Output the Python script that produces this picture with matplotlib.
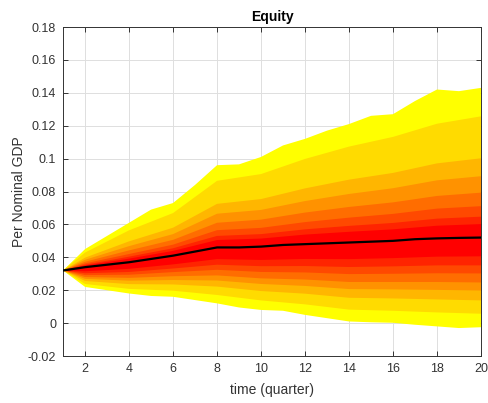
import matplotlib
matplotlib.use("Agg")
import matplotlib.pyplot as plt
from matplotlib.ticker import FuncFormatter

# quarters for the median and the outer band
t = list(range(1, 21))
mediana = [0.032, 0.034, 0.0355, 0.037, 0.039, 0.041, 0.0435, 0.046, 0.046, 0.0465,
           0.0475, 0.048, 0.0485, 0.049, 0.0495, 0.050, 0.051, 0.0515, 0.0518, 0.052]
sup_ext = [0.032, 0.045, 0.053, 0.061, 0.069, 0.073, 0.084, 0.096, 0.0965, 0.101,
           0.108, 0.112, 0.117, 0.121, 0.126, 0.127, 0.135, 0.142, 0.141, 0.143]
inf_ext = [0.032, 0.022, 0.020, 0.018, 0.0165, 0.016, 0.014, 0.012, 0.0095, 0.008,
           0.0075, 0.005, 0.003, 0.001, 0.0005, 0.0002, -0.001, -0.002, -0.003, -0.0025]

# inner bands (outer to inner), read at fewer quarters
t_in = [1, 2, 4, 6, 8, 10, 12, 14, 16, 18, 20]
sup_bandas = [
    [0.032, 0.0429, 0.0564, 0.0669, 0.0865, 0.0906, 0.0998, 0.1073, 0.1132, 0.1212, 0.1257],
    [0.032, 0.0398, 0.0497, 0.0580, 0.0725, 0.0754, 0.0819, 0.0872, 0.0913, 0.0971, 0.1002],
    [0.032, 0.0385, 0.0468, 0.0541, 0.0665, 0.0688, 0.0742, 0.0785, 0.0820, 0.0868, 0.0893],
    [0.032, 0.0373, 0.0442, 0.0506, 0.0610, 0.0629, 0.0672, 0.0706, 0.0734, 0.0773, 0.0793],
    [0.032, 0.0363, 0.0420, 0.0477, 0.0565, 0.0579, 0.0614, 0.0641, 0.0664, 0.0696, 0.0711],
    [0.032, 0.0355, 0.0404, 0.0455, 0.0530, 0.0541, 0.0570, 0.0591, 0.0609, 0.0635, 0.0647],
    [0.032, 0.0350, 0.0392, 0.0439, 0.0505, 0.0514, 0.0538, 0.0555, 0.0570, 0.0592, 0.0602],
]
inf_bandas = [
    [0.032, 0.0238, 0.0208, 0.0197, 0.0171, 0.0138, 0.0114, 0.0082, 0.0075, 0.0065, 0.0057],
    [0.032, 0.0256, 0.0237, 0.0235, 0.0222, 0.0195, 0.0179, 0.0154, 0.0150, 0.0144, 0.0138],
    [0.032, 0.0269, 0.0258, 0.0262, 0.0259, 0.0238, 0.0226, 0.0207, 0.0205, 0.0202, 0.0198],
    [0.032, 0.0280, 0.0275, 0.0285, 0.0290, 0.0272, 0.0265, 0.0250, 0.0250, 0.0250, 0.0247],
    [0.032, 0.0292, 0.0294, 0.0310, 0.0324, 0.0311, 0.0308, 0.0298, 0.0300, 0.0303, 0.0302],
    [0.032, 0.0303, 0.0311, 0.0332, 0.0355, 0.0346, 0.0347, 0.0341, 0.0345, 0.0351, 0.0351],
    [0.032, 0.0315, 0.0330, 0.0357, 0.0389, 0.0384, 0.0390, 0.0389, 0.0395, 0.0404, 0.0406],
]

xticks = list(range(2, 21, 2))
yticks = [-0.02, 0, 0.02, 0.04, 0.06, 0.08, 0.1, 0.12, 0.14, 0.16, 0.18]

plt.rcParams["font.family"] = ["Liberation Sans", "DejaVu Sans"]
gris = "#333333"

fig = plt.figure(figsize=(4.89, 4.03), dpi=100)
ax = fig.add_axes([0.129, 0.1166, 0.8546, 0.8164])

n = len(sup_bandas) + 1
cmap = plt.cm.autumn

# outer band first, then every inner band on top
ax.fill(t + t[::-1], sup_ext + inf_ext[::-1], color=cmap(1.0), lw=0, zorder=2)
for i, (sup, inf) in enumerate(zip(sup_bandas, inf_bandas)):
    ax.fill(t_in + t_in[::-1], sup + inf[::-1], color=cmap(1 - (i + 1) / (n - 1)),
            lw=0, zorder=2)

ax.plot(t, mediana, color="black", lw=1.6, zorder=3)

ax.set_xlim(1, 20)
ax.set_ylim(-0.02, 0.18)
ax.set_xticks(xticks)
ax.set_yticks(yticks)
ax.yaxis.set_major_formatter(FuncFormatter(lambda v, p: f"{v:g}"))

ax.set_axisbelow(True)
ax.grid(True, color="#dedede", lw=0.7)
ax.tick_params(direction="in", length=3.5, width=0.7, colors=gris, labelsize=9,
               top=True, right=True, labelcolor=gris, pad=5)
for s in ax.spines.values():
    s.set_color(gris)
    s.set_linewidth(0.7)

ax.set_title("Equity", fontsize=10, fontweight="bold", color="black", pad=4)
ax.set_xlabel("time (quarter)", fontsize=10, color=gris, labelpad=6)
ax.set_ylabel("Per Nominal GDP", fontsize=10, color=gris, labelpad=1)

fig.savefig("out.png", dpi=100)
